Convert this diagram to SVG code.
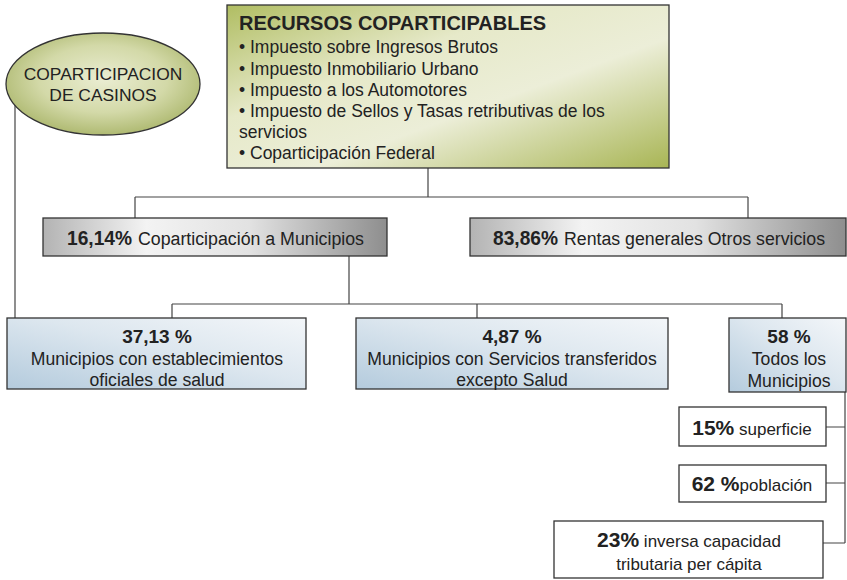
<svg xmlns="http://www.w3.org/2000/svg" width="847" height="580" viewBox="0 0 847 580">
<defs>
<linearGradient id="gGreen" x1="0" y1="0" x2="1" y2="1">
<stop offset="0" stop-color="#b0bd62"/>
<stop offset="0.35" stop-color="#e6e9c9"/>
<stop offset="0.6" stop-color="#eceed8"/>
<stop offset="1" stop-color="#a8b554"/>
</linearGradient>
<radialGradient id="gEll" cx="0.5" cy="0.45" r="0.6">
<stop offset="0" stop-color="#eaedd2"/>
<stop offset="0.55" stop-color="#d3d9a8"/>
<stop offset="1" stop-color="#a7b366"/>
</radialGradient>
<linearGradient id="gGray" x1="0" y1="0" x2="1" y2="0">
<stop offset="0" stop-color="#b3b3b3"/>
<stop offset="0.3" stop-color="#f3f3f3"/>
<stop offset="0.6" stop-color="#e2e2e2"/>
<stop offset="1" stop-color="#8e8e8e"/>
</linearGradient>
<linearGradient id="gBlue" x1="0" y1="1" x2="1" y2="0">
<stop offset="0" stop-color="#b4cbdd"/>
<stop offset="0.55" stop-color="#dde7ef"/>
<stop offset="1" stop-color="#f3f6f9"/>
</linearGradient>
</defs>
<style>
.box{stroke:#333;stroke-width:1.3}
.t{font-family:"Liberation Sans",Arial,sans-serif;fill:#222}
.c{text-anchor:middle}
.b{font-weight:bold}
.conn{fill:none;stroke:#444;stroke-width:1.2}
</style>
<rect width="847" height="580" fill="#fff"/>
<g id="connectors" class="conn">
<path d="M15,105V318"/>
<path d="M428,168V197M135,197H748M135,197V218M748,197V218"/>
<path d="M349,256V304M172,304H782M172,304V318M477,304V318M782,304V318"/>
<path d="M845,392V543M826,427H845M826,483H845M823,543H845"/>
</g>
<g id="casinos">
<ellipse cx="103" cy="84" rx="97" ry="51" fill="url(#gEll)" class="box"/>
<text class="t c" x="103" y="80" font-size="17.4" fill="#333">COPARTICIPACION</text>
<text class="t c" x="103" y="101" font-size="17.4" fill="#333">DE CASINOS</text>
</g>
<g id="recursos">
<rect x="227" y="5" width="442" height="163" fill="url(#gGreen)" class="box"/>
<text class="t b" x="239" y="30" font-size="20">RECURSOS COPARTICIPABLES</text>
<text class="t" x="239" y="53" font-size="17.5">• Impuesto sobre Ingresos Brutos</text>
<text class="t" x="239" y="75" font-size="17.5">• Impuesto Inmobiliario Urbano</text>
<text class="t" x="239" y="96" font-size="17.5">• Impuesto a los Automotores</text>
<text class="t" x="239" y="117" font-size="17.5">• Impuesto de Sellos y Tasas retributivas de los</text>
<text class="t" x="239" y="138" font-size="17.5">servicios</text>
<text class="t" x="239" y="159" font-size="17.5">• Coparticipación Federal</text>
</g>
<g id="municipios1614">
<rect x="43" y="218" width="344" height="38" fill="url(#gGray)" class="box"/>
<text class="t b" x="67" y="245" font-size="20.5" textLength="65" lengthAdjust="spacingAndGlyphs">16,14%</text>
<text class="t" x="138" y="245" font-size="18.8" textLength="226" lengthAdjust="spacingAndGlyphs">Coparticipación a Municipios</text>
</g>
<g id="rentas8386">
<rect x="470" y="218" width="376" height="38" fill="url(#gGray)" class="box"/>
<text class="t b" x="493" y="245" font-size="20.5" textLength="65" lengthAdjust="spacingAndGlyphs">83,86%</text>
<text class="t" x="564" y="245" font-size="18.8" textLength="261" lengthAdjust="spacingAndGlyphs">Rentas generales Otros servicios</text>
</g>
<g id="salud3713">
<rect x="7" y="318" width="299" height="71" fill="url(#gBlue)" class="box"/>
<text class="t c b" x="157" y="343" font-size="19">37,13 %</text>
<text class="t c" x="157" y="365" font-size="17.6">Municipios con establecimientos</text>
<text class="t c" x="157" y="386" font-size="17.6">oficiales de salud</text>
</g>
<g id="servicios487">
<rect x="356" y="318" width="312" height="71" fill="url(#gBlue)" class="box"/>
<text class="t c b" x="512" y="343" font-size="19">4,87 %</text>
<text class="t c" x="512" y="365" font-size="17.6">Municipios con Servicios transferidos</text>
<text class="t c" x="512" y="386" font-size="17.6">excepto Salud</text>
</g>
<g id="todos58">
<rect x="729" y="318" width="117" height="74" fill="url(#gBlue)" class="box"/>
<text class="t c b" x="789" y="343" font-size="19">58 %</text>
<text class="t c" x="789" y="365" font-size="17.6">Todos los</text>
<text class="t c" x="789" y="387" font-size="17.6">Municipios</text>
</g>
<g id="superficie15">
<rect x="679" y="407" width="147" height="39" fill="#fff" class="box"/>
<text class="t c" x="752" y="435" font-size="17"><tspan class="b" font-size="21">15%</tspan> superficie</text>
</g>
<g id="poblacion62">
<rect x="679" y="465" width="147" height="37" fill="#fff" class="box"/>
<text class="t c" x="752" y="491" font-size="17"><tspan class="b" font-size="21">62 %</tspan>población</text>
</g>
<g id="capacidad23">
<rect x="554" y="521" width="269" height="57" fill="#fff" class="box"/>
<text class="t c" x="689" y="547" font-size="17"><tspan class="b" font-size="21">23%</tspan> inversa capacidad</text>
<text class="t c" x="689" y="570" font-size="17">tributaria per cápita</text>
</g>
</svg>
